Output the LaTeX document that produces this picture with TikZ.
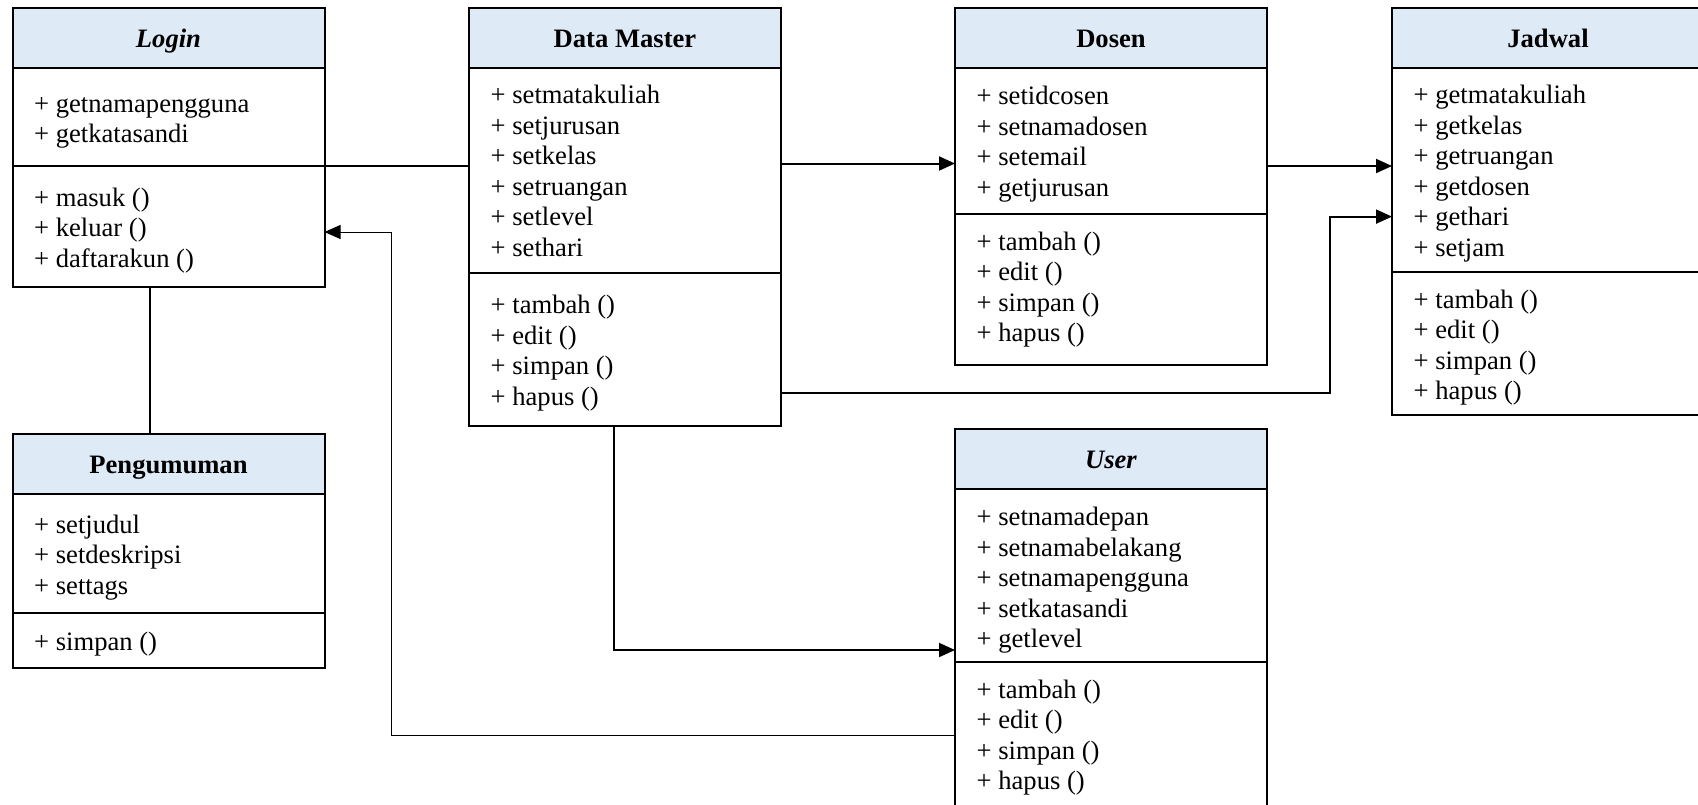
\documentclass[tikz,border=0pt]{standalone}
\usepackage{fontspec}
\setmainfont{Liberation Serif}
\usetikzlibrary{arrows.meta}
\definecolor{headblue}{HTML}{DEEAF6}
\newcommand\classfont{\fontsize{26.6pt}{30.5pt}\selectfont}

\tikzset{
  classframe/.style={draw, line width=2pt, rectangle, anchor=north west,
    minimum width=312pt, inner sep=0pt, outer sep=0pt},
  divider/.style={line width=2pt},
  classtitle/.style={font=\classfont\bfseries, inner sep=0pt, anchor=center, yshift=-3.3pt},
  classmembers/.style={font=\classfont, align=left, anchor=west, inner sep=0pt, yshift=-2.2pt},
  link/.style={line width=2pt},
  thinlink/.style={line width=1pt},
  tip/.style={-{Triangle[length=16pt,width=14pt]}},
}

\begin{document}
\begin{tikzpicture}[x=1pt,y=-1pt]
\useasboundingbox (0,0) rectangle (1698,804);
\fill[white] (0,0) rectangle (1698,804);
\clip (0,0) rectangle (1698,804);

% ---------- Login ----------
\fill[headblue] (12.5,7.5) rectangle (324.5,68);
\draw[divider] (12.5,68) -- (324.5,68) (12.5,166) -- (324.5,166);
\node[classframe, minimum height=279.5pt] (login) at (12.5,7.5) {};
\node[classtitle] (loginT) at (168.5,37.75) {\strut\textit{Login}};
\node[classmembers] (loginA) at (34,119.2) {\strut+ getnamapengguna\\\strut+ getkatasandi};
\node[classmembers] (loginM) at (34,228.5) {\strut+ masuk ()\\\strut+ keluar ()\\\strut+ daftarakun ()};

% ---------- Data Master ----------
\fill[headblue] (469,7.5) rectangle (781,68);
\draw[divider] (469,68) -- (781,68) (469,273) -- (781,273);
\node[classframe, minimum height=418.5pt] (dm) at (469,7.5) {};
\node[classtitle] (dmT) at (625,37.75) {\strut Data Master};
\node[classmembers] (dmA) at (490.5,171.7) {\strut+ setmatakuliah\\\strut+ setjurusan\\\strut+ setkelas\\\strut+ setruangan\\\strut+ setlevel\\\strut+ sethari};
\node[classmembers] (dmM) at (490.5,351) {\strut+ tambah ()\\\strut+ edit ()\\\strut+ simpan ()\\\strut+ hapus ()};

% ---------- Dosen ----------
\fill[headblue] (955,7.5) rectangle (1267,68);
\draw[divider] (955,68) -- (1267,68) (955,214) -- (1267,214);
\node[classframe, minimum height=357.5pt] (dosen) at (955,7.5) {};
\node[classtitle] (dosenT) at (1111,37.75) {\strut Dosen};
\node[classmembers] (dosenA) at (976.5,142.4) {\strut+ setidcosen\\\strut+ setnamadosen\\\strut+ setemail\\\strut+ getjurusan};
\node[classmembers] (dosenM) at (976.5,287.6) {\strut+ tambah ()\\\strut+ edit ()\\\strut+ simpan ()\\\strut+ hapus ()};

% ---------- Jadwal ----------
\fill[headblue] (1392,7.5) rectangle (1704,68);
\draw[divider] (1392,68) -- (1704,68) (1392,272) -- (1704,272);
\node[classframe, minimum height=407.5pt] (jadwal) at (1392,7.5) {};
\node[classtitle] (jadwalT) at (1548,37.75) {\strut Jadwal};
\node[classmembers] (jadwalA) at (1413.5,171.7) {\strut+ getmatakuliah\\\strut+ getkelas\\\strut+ getruangan\\\strut+ getdosen\\\strut+ gethari\\\strut+ setjam};
\node[classmembers] (jadwalM) at (1413.5,345.5) {\strut+ tambah ()\\\strut+ edit ()\\\strut+ simpan ()\\\strut+ hapus ()};

% ---------- User ----------
\fill[headblue] (955,429) rectangle (1267,489);
\draw[divider] (955,489) -- (1267,489) (955,662) -- (1267,662);
\node[classframe, minimum height=421pt] (user) at (955,429) {};
\node[classtitle] (userT) at (1111,459) {\strut\textit{User}};
\node[classmembers] (userA) at (976.5,578.3) {\strut+ setnamadepan\\\strut+ setnamabelakang\\\strut+ setnamapengguna\\\strut+ setkatasandi\\\strut+ getlevel};
\node[classmembers] (userM) at (976.5,735.5) {\strut+ tambah ()\\\strut+ edit ()\\\strut+ simpan ()\\\strut+ hapus ()};

% ---------- Pengumuman ----------
\fill[headblue] (12.5,434) rectangle (324.5,494);
\draw[divider] (12.5,494) -- (324.5,494) (12.5,613) -- (324.5,613);
\node[classframe, minimum height=234pt] (peng) at (12.5,434) {};
\node[classtitle] (pengT) at (168.5,464) {\strut Pengumuman};
\node[classmembers] (pengA) at (34,555.6) {\strut+ setjudul\\\strut+ setdeskripsi\\\strut+ settags};
\node[classmembers] (pengM) at (34,642) {\strut+ simpan ()};

% ---------- routing levels ----------
\coordinate (yLogin) at (0,166);
\coordinate (yDosen) at (0,163.5);
\coordinate (yJadwalA) at (0,166);
\coordinate (yJadwalB) at (0,216.6);
\coordinate (yDmLow) at (0,393);
\coordinate (yUserIn) at (0,650);
\coordinate (yUserOut) at (0,735);
\coordinate (yLoginIn) at (0,232);
\coordinate (xPeng) at (150,0);
\coordinate (xDmDown) at (614,0);
\coordinate (bendJadwal) at (1330,393);
\coordinate (bendLogin) at (391,735);

% ---------- connectors ----------
\draw[link] (login.east |- yLogin) -- (dm.west |- yLogin);
\draw[link] (login.south -| xPeng) -- (peng.north -| xPeng);
\draw[link, tip] (dm.east |- yDosen) -- (dosen.west |- yDosen);
\draw[link, tip] (dosen.east |- yJadwalA) -- (jadwal.west |- yJadwalA);
\draw[link, tip] (dm.east |- yDmLow) -- (bendJadwal) |- (jadwal.west |- yJadwalB);
\draw[link, tip] (dm.south -| xDmDown) |- (user.west |- yUserIn);
\draw[thinlink, tip] (user.west |- yUserOut) -- (bendLogin) |- (login.east |- yLoginIn);
\end{tikzpicture}
\end{document}
